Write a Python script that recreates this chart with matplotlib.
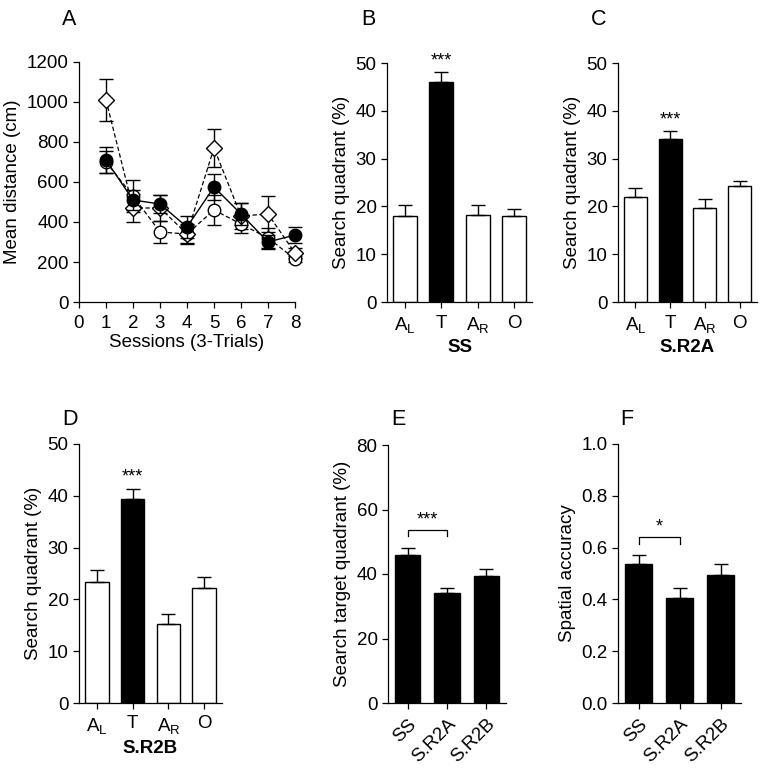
import numpy as np
import matplotlib.pyplot as plt

plt.rcParams['font.family'] = ['Liberation Sans', 'DejaVu Sans']
plt.rcParams['font.size'] = 13.5
plt.rcParams['axes.linewidth'] = 0.9
plt.rcParams['xtick.major.width'] = 0.9
plt.rcParams['ytick.major.width'] = 0.9
plt.rcParams['xtick.major.size'] = 4
plt.rcParams['ytick.major.size'] = 4
plt.rcParams['xtick.major.pad'] = 5
plt.rcParams['mathtext.default'] = 'regular'

# Panel A: learning curves
sessions = [1, 2, 3, 4, 5, 6, 7, 8]
ss_dist = [710, 510, 490, 375, 575, 440, 300, 335]
ss_err = [65, 50, 45, 55, 65, 55, 35, 40]
r2a_dist = [700, 530, 350, 340, 460, 390, 320, 215]
r2a_err = [55, 80, 55, 45, 75, 45, 50, 15]
r2b_dist = [1010, 470, 470, 340, 770, 430, 440, 245]
r2b_err = [105, 70, 65, 50, 95, 65, 90, 25]

# Panels B-D: quadrant search
quadrants = ['$A_L$', 'T', '$A_R$', 'O']
ss_quad = [18.0, 46.0, 18.3, 17.9]
ss_quad_err = [2.2, 2.1, 2.0, 1.5]
r2a_quad = [22.0, 34.1, 19.7, 24.2]
r2a_quad_err = [1.8, 1.6, 1.8, 1.2]
r2b_quad = [23.3, 39.4, 15.2, 22.2]
r2b_quad_err = [2.4, 2.0, 1.9, 2.2]

# Panels E-F: group comparisons
groups = ['SS', 'S.R2A', 'S.R2B']
target_quad = [46.0, 34.1, 39.4]
target_err = [2.1, 1.6, 2.0]
spatial_acc = [0.535, 0.405, 0.495]
spatial_err = [0.035, 0.04, 0.04]

fig = plt.figure(figsize=(7.68, 7.68), dpi=100)

def px_axes(left, top, right, bottom):
    return fig.add_axes([left / 768, 1 - bottom / 768, (right - left) / 768, (bottom - top) / 768])

def clean(ax):
    ax.spines['top'].set_visible(False)
    ax.spines['right'].set_visible(False)
    ax.tick_params(direction='out', length=4)

# ---- A
axA = px_axes(79, 62, 295, 302)
clean(axA)
axA.errorbar(sessions, ss_dist, yerr=ss_err, fmt='-o', color='black', mfc='black',
             ms=9, lw=1.0, capsize=5, elinewidth=1.0, zorder=4)
axA.errorbar(sessions, r2a_dist, yerr=r2a_err, fmt='--o', color='black', mfc='white',
             ms=9, lw=0.9, capsize=5, elinewidth=1.0, dashes=(3.5, 2), zorder=3)
axA.errorbar(sessions, r2b_dist, yerr=r2b_err, fmt='--D', color='black', mfc='white',
             ms=8, lw=0.9, capsize=5, elinewidth=1.0, dashes=(3.5, 2), zorder=3)
axA.set_xlim(0, 8)
axA.set_ylim(0, 1200)
axA.set_xticks(range(0, 9))
axA.set_yticks(range(0, 1201, 200))
for line in axA.lines:
    line.set_clip_on(False)
axA.set_xlabel('Sessions (3-Trials)', labelpad=2)
axA.set_ylabel('Mean distance (cm)')

def quad_panel(ax, vals, errs, title):
    clean(ax)
    x = np.arange(len(vals))
    colors = ['white', 'black', 'white', 'white']
    ax.bar(x, vals, width=0.66, color=colors, edgecolor='black', linewidth=1.0,
           yerr=[np.zeros(len(errs)), errs], capsize=5,
           error_kw=dict(elinewidth=1.0, capthick=1.0, ecolor='black'))
    ax.set_xlim(-0.5, 3.5)
    ax.set_ylim(0, 50)
    ax.set_yticks(range(0, 51, 10))
    ax.set_xticks(x)
    ax.set_xticklabels(quadrants)
    ax.set_xlabel(title, fontweight='bold', labelpad=3)
    ax.set_ylabel('Search quadrant (%)')
    ax.text(1, vals[1] + errs[1] + 0.6, '***', ha='center', va='bottom', fontsize=13)

axB = px_axes(387, 63, 532, 302)
quad_panel(axB, ss_quad, ss_quad_err, 'SS')
axC = px_axes(618, 63, 757, 302)
quad_panel(axC, r2a_quad, r2a_quad_err, 'S.R2A')
axD = px_axes(79, 444, 222, 703)
quad_panel(axD, r2b_quad, r2b_quad_err, 'S.R2B')

def group_panel(ax, vals, errs, ylim, yticks, ylabel, brk, stars):
    clean(ax)
    x = np.arange(len(vals))
    ax.bar(x, vals, width=0.65, color='black', edgecolor='black', linewidth=1.0,
           yerr=[np.zeros(len(errs)), errs], capsize=5,
           error_kw=dict(elinewidth=1.0, capthick=1.0, ecolor='black'))
    ax.set_xlim(-0.5, 2.5)
    ax.set_ylim(*ylim)
    ax.set_yticks(yticks)
    ax.set_xticks(x)
    ax.set_xticklabels(groups, rotation=45, ha='right', rotation_mode='anchor')
    ax.set_ylabel(ylabel)
    h, d = brk
    ax.plot([0, 0, 1, 1], [h - d, h, h, h - d], color='black', lw=0.9)
    ax.text(0.5, h + d * 0.3, stars, ha='center', va='bottom', fontsize=13)

axE = px_axes(388, 445, 506, 703)
group_panel(axE, target_quad, target_err, (0, 80), range(0, 81, 20),
            'Search target quadrant (%)', (53.6, 1.9), '***')
axF = px_axes(618, 444, 741, 703)
group_panel(axF, spatial_acc, spatial_err, (0, 1.0), np.arange(0, 1.01, 0.2),
            'Spatial accuracy', (0.64, 0.025), '*')
axF.set_yticklabels(['0.0', '0.2', '0.4', '0.6', '0.8', '1.0'])

# panel letters
for lab, xp, yp in [('A', 62, 25), ('B', 361, 25), ('C', 591, 25),
                    ('D', 62, 425), ('E', 391, 425), ('F', 620, 425)]:
    fig.text(xp / 768, 1 - yp / 768, lab, fontsize=15.5, ha='left', va='baseline')

fig.savefig('out.png', dpi=100)
